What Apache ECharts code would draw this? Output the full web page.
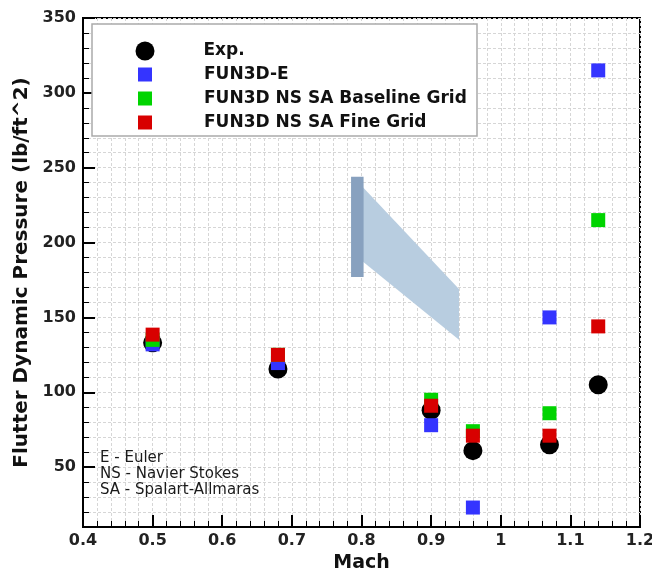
<!DOCTYPE html>
<html>
<head>
<meta charset="utf-8">
<script src="https://cdn.jsdelivr.net/npm/echarts@6/dist/echarts.min.js"></script>
<style>html,body{margin:0;padding:0;background:#fff}#c{width:652px;height:571px}</style>
</head>
<body>
<div id="c"></div>
<script>
// ---- data ----
const seriesNames = ['Exp.', 'FUN3D-E', 'FUN3D NS SA Baseline Grid', 'FUN3D NS SA Fine Grid'];
const expMach = [0.5, 0.68, 0.9, 0.96, 1.07, 1.14];
const expQ = [133, 115.5, 88, 61, 65, 105];
const eulerMach = [0.5, 0.68, 0.9, 0.96, 1.07, 1.14];
const eulerQ = [132, 119.5, 78, 23, 150, 315];
const baseMach = [0.5, 0.68, 0.9, 0.96, 1.07, 1.14];
const baseQ = [135, 125, 95, 74, 86, 215];
const fineMach = [0.5, 0.68, 0.9, 0.96, 1.07, 1.14];
const fineQ = [138.5, 125, 91, 71, 71, 144];
// shaded band (polygon) and bar
const bandMach = [0.8, 0.94];
const bandUpper = [238, 169];
const bandLower = [188, 135];
const barMach = [0.785, 0.803];
const barRange = [177, 244];
// ticks
const xTicks = [0.4, 0.5, 0.6, 0.7, 0.8, 0.9, 1.0, 1.1, 1.2];
const yTicks = [50, 100, 150, 200, 250, 300, 350];
const annotation = ['E - Euler', 'NS - Navier Stokes', 'SA - Spalart-Allmaras'];

const pairs = (xs, ys) => xs.map((x, i) => [x, ys[i]]);
const FONT = 'DejaVu Sans';
const colors = ['#000000', '#3434ff', '#00d400', '#d80000'];

const chart = echarts.init(document.getElementById('c'), null, {renderer: 'canvas'});
const gridLine = {show: true, lineStyle: {color: '#d6d6d6', type: [3, 2], width: 1}};

const option = {
  animation: false,
  backgroundColor: '#fff',
  grid: {left: 83, right: 12, top: 18, bottom: 44, outerBoundsMode: 'none', containLabel: false,
    show: true, borderColor: '#000', borderWidth: 2, backgroundColor: 'transparent'},
  xAxis: {
    type: 'value', min: xTicks[0], max: xTicks[xTicks.length - 1], interval: 0.1,
    name: 'Mach', nameLocation: 'middle', nameGap: 25,
    nameTextStyle: {fontFamily: FONT, fontWeight: 'bold', fontSize: 19, color: '#111'},
    axisLine: {show: true, lineStyle: {color: '#000', width: 2}},
    axisTick: {show: true, inside: true, length: 12, lineStyle: {color: '#000', width: 2}},
    minorTick: {show: true, splitNumber: 5, length: 6, lineStyle: {color: '#000', width: 1}},
    axisLabel: {fontFamily: FONT, fontWeight: 'bold', fontSize: 16, color: '#222', margin: 6,
      formatter: v => { const r = Math.round(v * 10) / 10; return r === 1 ? '1' : String(r); }},
    splitLine: gridLine,
    minorSplitLine: gridLine
  },
  yAxis: [
    {
      type: 'value', min: 10, max: 350, interval: 10,
      axisLine: {show: true, lineStyle: {color: '#000', width: 2}},
      axisTick: {show: true, inside: true, length: 6, lineStyle: {color: '#000', width: 1}},
      axisLabel: {show: false},
      splitLine: gridLine
    },
    {
      type: 'value', min: 10, max: 350, interval: 10, position: 'left',
      name: 'Flutter Dynamic Pressure (lb/ft^2)', nameLocation: 'middle', nameGap: 40,
      nameTextStyle: {fontFamily: FONT, fontWeight: 'bold', fontSize: 20, color: '#111'},
      axisLine: {show: false},
      axisTick: {show: true, inside: true, length: 12, customValues: yTicks, lineStyle: {color: '#000', width: 2}},
      axisLabel: {fontFamily: FONT, fontWeight: 'bold', fontSize: 16, color: '#222', margin: 7, customValues: yTicks},
      splitLine: {show: false}
    }
  ],
  title: {
    text: annotation.join('\n'), left: 100, top: 450, padding: 0,
    textStyle: {fontFamily: FONT, fontWeight: 'normal', fontSize: 15, lineHeight: 16, color: '#1a1a1a'}
  },
  graphic: [{
    type: 'rect', z: 10, shape: {x: 92, y: 24, width: 385, height: 112},
    style: {fill: '#fff', stroke: '#aaa', lineWidth: 1.5}
  }],
  legend: [
    {
      data: [seriesNames[0]], z: 20, left: 135.5, top: 41.5, icon: 'circle', itemWidth: 19, itemHeight: 19,
      padding: 0, selectedMode: false,
      formatter: n => '{sp| }' + n,
      textStyle: {fontFamily: FONT, fontWeight: 'bold', fontSize: 17, color: '#111', rich: {sp: {width: 44}}}
    },
    {
      data: seriesNames.slice(1), z: 20, left: 138, top: 66, orient: 'vertical', icon: 'rect', itemWidth: 14, itemHeight: 14,
      itemGap: 7, padding: 0, selectedMode: false,
      formatter: n => '{sp| }' + n,
      textStyle: {fontFamily: FONT, fontWeight: 'bold', fontSize: 17, lineHeight: 14, color: '#111', rich: {sp: {width: 47}}}
    }
  ],
  series: [
    {
      type: 'custom', name: 'band', silent: true, z: 1,
      data: [[bandMach[0], bandUpper[0], bandLower[0], bandMach[1], bandUpper[1], bandLower[1]]],
      renderItem: (params, api) => {
        const p1 = api.coord([api.value(0), api.value(1)]);
        const p2 = api.coord([api.value(3), api.value(4)]);
        const p3 = api.coord([api.value(3), api.value(5)]);
        const p4 = api.coord([api.value(0), api.value(2)]);
        return {type: 'polygon', shape: {points: [p1, p2, p3, p4]}, style: {fill: '#b8cde0'}};
      }
    },
    {
      type: 'custom', name: 'bar', silent: true, z: 1,
      data: [[barMach[0], barRange[0], barMach[1], barRange[1]]],
      renderItem: (params, api) => {
        const a = api.coord([api.value(0), api.value(3)]);
        const b = api.coord([api.value(2), api.value(1)]);
        return {type: 'rect', shape: {x: a[0], y: a[1], width: b[0] - a[0], height: b[1] - a[1]}, style: {fill: '#88a1bf'}};
      }
    },
    {type: 'scatter', name: seriesNames[0], symbol: 'circle', symbolSize: 19, itemStyle: {color: colors[0], opacity: 1}, data: pairs(expMach, expQ), z: 2},
    {type: 'scatter', name: seriesNames[1], symbol: 'rect', symbolSize: 14, itemStyle: {color: colors[1], opacity: 1}, data: pairs(eulerMach, eulerQ), z: 3},
    {type: 'scatter', name: seriesNames[2], symbol: 'rect', symbolSize: 14, itemStyle: {color: colors[2], opacity: 1}, data: pairs(baseMach, baseQ), z: 4},
    {type: 'scatter', name: seriesNames[3], symbol: 'rect', symbolSize: 14, itemStyle: {color: colors[3], opacity: 1}, data: pairs(fineMach, fineQ), z: 5}
  ]
};
chart.setOption(option);
</script>
</body>
</html>
